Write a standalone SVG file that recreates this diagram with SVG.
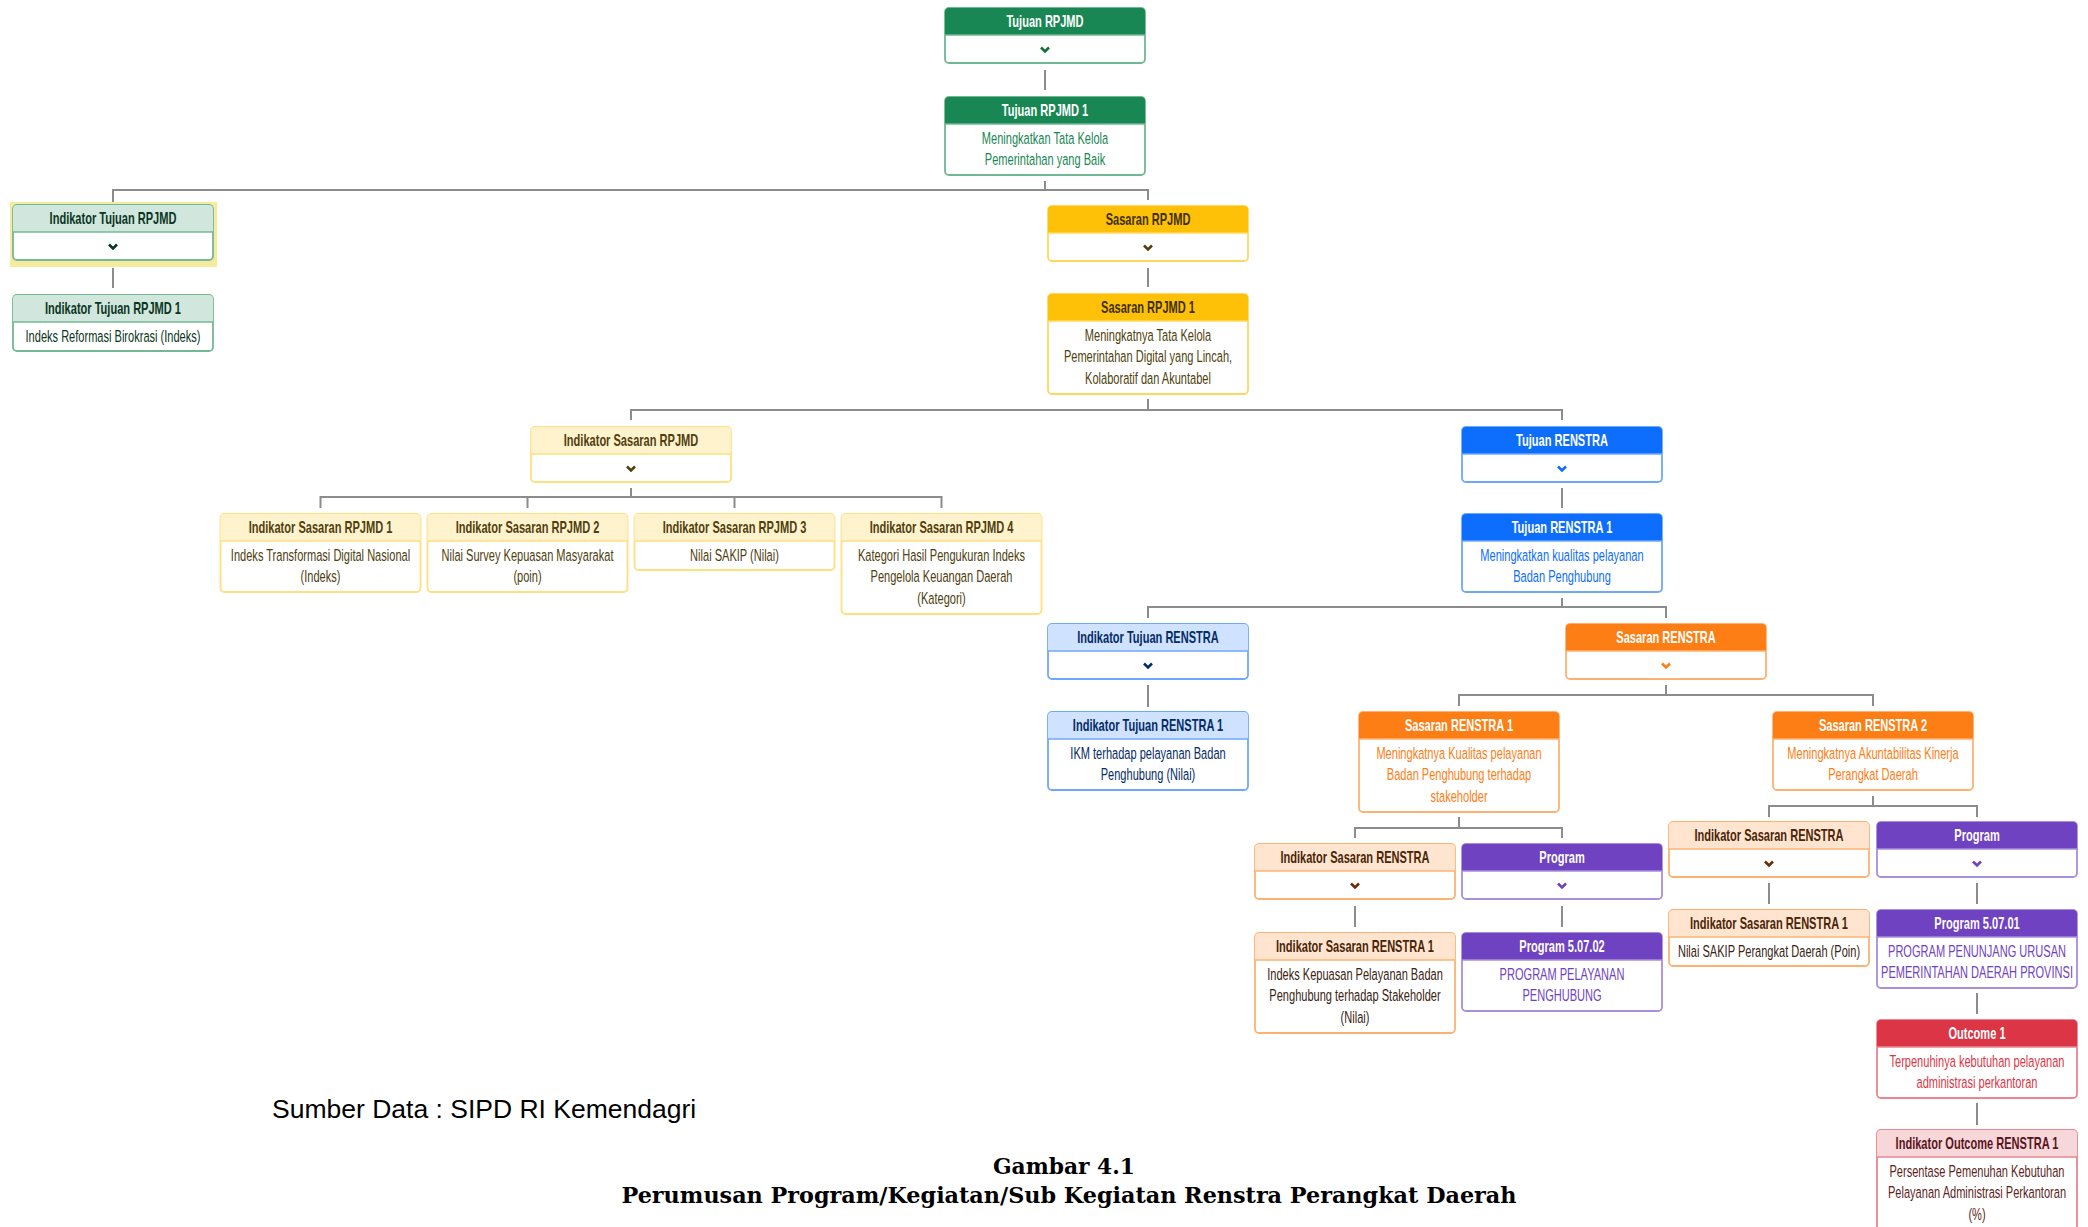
<svg xmlns="http://www.w3.org/2000/svg" width="2088" height="1227" viewBox="0 0 2088 1227">
<style>
.bg{fill:#fff}
.card{fill:#fff;stroke-width:1.8}
.sep{stroke-width:1.5}
.ht{font-family:"Liberation Sans",Arial,sans-serif;font-weight:bold;font-size:16.5px;text-anchor:middle}
.bt{font-family:"Liberation Sans",Arial,sans-serif;font-size:16.5px;text-anchor:middle}
.chev{fill:none;stroke-width:2.6;stroke-linejoin:miter}
.con{fill:none;stroke:#8c8c8c;stroke-width:2}
.g .card,.g .sep{stroke:#6fb893}.g .hd{fill:#198754}.g .ht{fill:#fff}.g .bt{fill:#198754}.g .chev{stroke:#146c43}
.gs .card,.gs .sep{stroke:#74b896}.gs .hd{fill:#d1e7dd}.gs .ht{fill:#0a3622}.gs .bt{fill:#0a3622}.gs .chev{stroke:#0a3622}
.y .card,.y .sep{stroke:#ffd75e}.y .hd{fill:#ffc107}.y .ht{fill:#3d3005}.y .bt{fill:#4f3f0c}.y .chev{stroke:#4f3f0c}
.ys .card,.ys .sep{stroke:#ffdf7e}.ys .hd{fill:#fff3cd}.ys .ht{fill:#4f400e}.ys .bt{fill:#4f400e}.ys .chev{stroke:#4f400e}
.b .card,.b .sep{stroke:#6ea8fe}.b .hd{fill:#0d6efd}.b .ht{fill:#fff}.b .bt{fill:#0d6efd}.b .chev{stroke:#0d6efd}
.bs .card,.bs .sep{stroke:#6ea8fe}.bs .hd{fill:#cfe2ff}.bs .ht{fill:#052c65}.bs .bt{fill:#052c65}.bs .chev{stroke:#052c65}
.o .card,.o .sep{stroke:#feb272}.o .hd{fill:#fd7e14}.o .ht{fill:#fff}.o .bt{fill:#fd7e14}.o .chev{stroke:#fd7e14}
.os .card,.os .sep{stroke:#feb272}.os .hd{fill:#ffe5d0}.os .ht{fill:#4a2508}.os .bt{fill:#3a2412}.os .chev{stroke:#6a2c06}
.p .card,.p .sep{stroke:#a98eda}.p .hd{fill:#6f42c1}.p .ht{fill:#fff}.p .bt{fill:#6f42c1}.p .chev{stroke:#6f42c1}
.r .card,.r .sep{stroke:#ea868f}.r .hd{fill:#dc3545}.r .ht{fill:#fff}.r .bt{fill:#dc3545}.r .chev{stroke:#dc3545}
.rs .card,.rs .sep{stroke:#ea868f}.rs .hd{fill:#f8d7da}.rs .ht{fill:#58151c}.rs .bt{fill:#5e1e22}.rs .chev{stroke:#58151c}
.src{font-family:"Liberation Sans",Arial,sans-serif;font-size:26.5px;fill:#000}
.cap{font-family:"DejaVu Serif","Liberation Serif",serif;font-weight:bold;font-size:23px;fill:#000;text-anchor:middle}
</style>
<rect class="bg" x="0" y="0" width="2088" height="1227"/>

<g id="connectors">
<path class="con" d="M1045 70V90"/>
<path class="con" d="M1045 181V190M113 202V190H1148V200"/>
<path class="con" d="M113 268V288"/>
<path class="con" d="M1148 268V287"/>
<path class="con" d="M1148 399V410M631 420V410H1562V420"/>
<path class="con" d="M631 488V497M320.5 508V497H941.5V508M527.5 497V508M734.5 497V508"/>
<path class="con" d="M1562 488V508"/>
<path class="con" d="M1562 598V607M1148 618V607H1666V618"/>
<path class="con" d="M1148 685V707"/>
<path class="con" d="M1666 685V695M1459 706V695H1873V706"/>
<path class="con" d="M1459 817V828M1355 838V828H1562V838"/>
<path class="con" d="M1355 906V927"/>
<path class="con" d="M1562 906V927"/>
<path class="con" d="M1873 796V806M1769 817V806H1977V817"/>
<path class="con" d="M1769 883V904"/>
<path class="con" d="M1977 883V904"/>
<path class="con" d="M1977 993V1014"/>
<path class="con" d="M1977 1103V1125"/>
</g>

<g id="tujuan-rpjmd" class="g">
<rect class="card" x="945" y="8" width="200" height="55" rx="4"/>
<path class="hd" d="M945 35V12a4 4 0 0 1 4-4h192a4 4 0 0 1 4 4V35Z"/>
<path class="sep" d="M945 35H1145"/>
<text class="ht" transform="translate(1045 27) scale(.67 1)">Tujuan RPJMD</text>
<path class="chev" d="M1041 47.5L1045 51.5L1049 47.5"/>
</g>

<g id="tujuan-rpjmd-1" class="g">
<rect class="card" x="945" y="97" width="200" height="78" rx="4"/>
<path class="hd" d="M945 124V101a4 4 0 0 1 4-4h192a4 4 0 0 1 4 4V124Z"/>
<path class="sep" d="M945 124H1145"/>
<text class="ht" transform="translate(1045 116) scale(.67 1)">Tujuan RPJMD 1</text>
<text class="bt" transform="translate(1045 143.5) scale(.67 1)"><tspan x="0">Meningkatkan Tata Kelola</tspan><tspan x="0" dy="22">Pemerintahan yang Baik</tspan></text>
</g>

<g id="indikator-tujuan-rpjmd" class="gs">
<rect x="10" y="202" width="207" height="65" fill="#f6eb9c"/>
<rect class="card" x="13" y="205" width="200" height="55" rx="4"/>
<path class="hd" d="M13 232V209a4 4 0 0 1 4-4h192a4 4 0 0 1 4 4V232Z"/>
<path class="sep" d="M13 232H213"/>
<text class="ht" transform="translate(113 224) scale(.67 1)">Indikator Tujuan RPJMD</text>
<path class="chev" d="M109 244.5L113 248.5L117 244.5"/>
</g>

<g id="indikator-tujuan-rpjmd-1" class="gs">
<rect class="card" x="13" y="295" width="200" height="56" rx="4"/>
<path class="hd" d="M13 322V299a4 4 0 0 1 4-4h192a4 4 0 0 1 4 4V322Z"/>
<path class="sep" d="M13 322H213"/>
<text class="ht" transform="translate(113 314) scale(.67 1)">Indikator Tujuan RPJMD 1</text>
<text class="bt" transform="translate(113 341.5) scale(.67 1)">Indeks Reformasi Birokrasi (Indeks)</text>
</g>

<g id="sasaran-rpjmd" class="y">
<rect class="card" x="1048" y="206" width="200" height="55" rx="4"/>
<path class="hd" d="M1048 233V210a4 4 0 0 1 4-4h192a4 4 0 0 1 4 4V233Z"/>
<path class="sep" d="M1048 233H1248"/>
<text class="ht" transform="translate(1148 225) scale(.67 1)">Sasaran RPJMD</text>
<path class="chev" d="M1144 245.5L1148 249.5L1152 245.5"/>
</g>

<g id="sasaran-rpjmd-1" class="y">
<rect class="card" x="1048" y="294" width="200" height="100" rx="4"/>
<path class="hd" d="M1048 321V298a4 4 0 0 1 4-4h192a4 4 0 0 1 4 4V321Z"/>
<path class="sep" d="M1048 321H1248"/>
<text class="ht" transform="translate(1148 313) scale(.67 1)">Sasaran RPJMD 1</text>
<text class="bt" transform="translate(1148 340.5) scale(.67 1)"><tspan x="0">Meningkatnya Tata Kelola</tspan><tspan x="0" dy="22">Pemerintahan Digital yang Lincah,</tspan><tspan x="0" dy="22">Kolaboratif dan Akuntabel</tspan></text>
</g>

<g id="indikator-sasaran-rpjmd" class="ys">
<rect class="card" x="531" y="427" width="200" height="55" rx="4"/>
<path class="hd" d="M531 454V431a4 4 0 0 1 4-4h192a4 4 0 0 1 4 4V454Z"/>
<path class="sep" d="M531 454H731"/>
<text class="ht" transform="translate(631 446) scale(.67 1)">Indikator Sasaran RPJMD</text>
<path class="chev" d="M627 466.5L631 470.5L635 466.5"/>
</g>

<g id="indikator-sasaran-rpjmd-1" class="ys">
<rect class="card" x="220.5" y="514" width="200" height="78" rx="4"/>
<path class="hd" d="M220.5 541V518a4 4 0 0 1 4-4h192a4 4 0 0 1 4 4V541Z"/>
<path class="sep" d="M220.5 541H420.5"/>
<text class="ht" transform="translate(320.5 533) scale(.67 1)">Indikator Sasaran RPJMD 1</text>
<text class="bt" transform="translate(320.5 560.5) scale(.67 1)"><tspan x="0">Indeks Transformasi Digital Nasional</tspan><tspan x="0" dy="22">(Indeks)</tspan></text>
</g>

<g id="indikator-sasaran-rpjmd-2" class="ys">
<rect class="card" x="427.5" y="514" width="200" height="78" rx="4"/>
<path class="hd" d="M427.5 541V518a4 4 0 0 1 4-4h192a4 4 0 0 1 4 4V541Z"/>
<path class="sep" d="M427.5 541H627.5"/>
<text class="ht" transform="translate(527.5 533) scale(.67 1)">Indikator Sasaran RPJMD 2</text>
<text class="bt" transform="translate(527.5 560.5) scale(.67 1)"><tspan x="0">Nilai Survey Kepuasan Masyarakat</tspan><tspan x="0" dy="22">(poin)</tspan></text>
</g>

<g id="indikator-sasaran-rpjmd-3" class="ys">
<rect class="card" x="634.5" y="514" width="200" height="56" rx="4"/>
<path class="hd" d="M634.5 541V518a4 4 0 0 1 4-4h192a4 4 0 0 1 4 4V541Z"/>
<path class="sep" d="M634.5 541H834.5"/>
<text class="ht" transform="translate(734.5 533) scale(.67 1)">Indikator Sasaran RPJMD 3</text>
<text class="bt" transform="translate(734.5 560.5) scale(.67 1)">Nilai SAKIP (Nilai)</text>
</g>

<g id="indikator-sasaran-rpjmd-4" class="ys">
<rect class="card" x="841.5" y="514" width="200" height="100" rx="4"/>
<path class="hd" d="M841.5 541V518a4 4 0 0 1 4-4h192a4 4 0 0 1 4 4V541Z"/>
<path class="sep" d="M841.5 541H1041.5"/>
<text class="ht" transform="translate(941.5 533) scale(.67 1)">Indikator Sasaran RPJMD 4</text>
<text class="bt" transform="translate(941.5 560.5) scale(.67 1)"><tspan x="0">Kategori Hasil Pengukuran Indeks</tspan><tspan x="0" dy="22">Pengelola Keuangan Daerah</tspan><tspan x="0" dy="22">(Kategori)</tspan></text>
</g>

<g id="tujuan-renstra" class="b">
<rect class="card" x="1462" y="427" width="200" height="55" rx="4"/>
<path class="hd" d="M1462 454V431a4 4 0 0 1 4-4h192a4 4 0 0 1 4 4V454Z"/>
<path class="sep" d="M1462 454H1662"/>
<text class="ht" transform="translate(1562 446) scale(.67 1)">Tujuan RENSTRA</text>
<path class="chev" d="M1558 466.5L1562 470.5L1566 466.5"/>
</g>

<g id="tujuan-renstra-1" class="b">
<rect class="card" x="1462" y="514" width="200" height="78" rx="4"/>
<path class="hd" d="M1462 541V518a4 4 0 0 1 4-4h192a4 4 0 0 1 4 4V541Z"/>
<path class="sep" d="M1462 541H1662"/>
<text class="ht" transform="translate(1562 533) scale(.67 1)">Tujuan RENSTRA 1</text>
<text class="bt" transform="translate(1562 560.5) scale(.67 1)"><tspan x="0">Meningkatkan kualitas pelayanan</tspan><tspan x="0" dy="22">Badan Penghubung</tspan></text>
</g>

<g id="indikator-tujuan-renstra" class="bs">
<rect class="card" x="1048" y="624" width="200" height="55" rx="4"/>
<path class="hd" d="M1048 651V628a4 4 0 0 1 4-4h192a4 4 0 0 1 4 4V651Z"/>
<path class="sep" d="M1048 651H1248"/>
<text class="ht" transform="translate(1148 643) scale(.67 1)">Indikator Tujuan RENSTRA</text>
<path class="chev" d="M1144 663.5L1148 667.5L1152 663.5"/>
</g>

<g id="indikator-tujuan-renstra-1" class="bs">
<rect class="card" x="1048" y="712" width="200" height="78" rx="4"/>
<path class="hd" d="M1048 739V716a4 4 0 0 1 4-4h192a4 4 0 0 1 4 4V739Z"/>
<path class="sep" d="M1048 739H1248"/>
<text class="ht" transform="translate(1148 731) scale(.67 1)">Indikator Tujuan RENSTRA 1</text>
<text class="bt" transform="translate(1148 758.5) scale(.67 1)"><tspan x="0">IKM terhadap pelayanan Badan</tspan><tspan x="0" dy="22">Penghubung (Nilai)</tspan></text>
</g>

<g id="sasaran-renstra" class="o">
<rect class="card" x="1566" y="624" width="200" height="55" rx="4"/>
<path class="hd" d="M1566 651V628a4 4 0 0 1 4-4h192a4 4 0 0 1 4 4V651Z"/>
<path class="sep" d="M1566 651H1766"/>
<text class="ht" transform="translate(1666 643) scale(.67 1)">Sasaran RENSTRA</text>
<path class="chev" d="M1662 663.5L1666 667.5L1670 663.5"/>
</g>

<g id="sasaran-renstra-1" class="o">
<rect class="card" x="1359" y="712" width="200" height="100" rx="4"/>
<path class="hd" d="M1359 739V716a4 4 0 0 1 4-4h192a4 4 0 0 1 4 4V739Z"/>
<path class="sep" d="M1359 739H1559"/>
<text class="ht" transform="translate(1459 731) scale(.67 1)">Sasaran RENSTRA 1</text>
<text class="bt" transform="translate(1459 758.5) scale(.67 1)"><tspan x="0">Meningkatnya Kualitas pelayanan</tspan><tspan x="0" dy="22">Badan Penghubung terhadap</tspan><tspan x="0" dy="22">stakeholder</tspan></text>
</g>

<g id="sasaran-renstra-2" class="o">
<rect class="card" x="1773" y="712" width="200" height="78" rx="4"/>
<path class="hd" d="M1773 739V716a4 4 0 0 1 4-4h192a4 4 0 0 1 4 4V739Z"/>
<path class="sep" d="M1773 739H1973"/>
<text class="ht" transform="translate(1873 731) scale(.67 1)">Sasaran RENSTRA 2</text>
<text class="bt" transform="translate(1873 758.5) scale(.67 1)"><tspan x="0">Meningkatnya Akuntabilitas Kinerja</tspan><tspan x="0" dy="22">Perangkat Daerah</tspan></text>
</g>

<g id="indikator-sasaran-renstra-a" class="os">
<rect class="card" x="1255" y="844" width="200" height="55" rx="4"/>
<path class="hd" d="M1255 871V848a4 4 0 0 1 4-4h192a4 4 0 0 1 4 4V871Z"/>
<path class="sep" d="M1255 871H1455"/>
<text class="ht" transform="translate(1355 863) scale(.67 1)">Indikator Sasaran RENSTRA</text>
<path class="chev" d="M1351 883.5L1355 887.5L1359 883.5"/>
</g>

<g id="program-a" class="p">
<rect class="card" x="1462" y="844" width="200" height="55" rx="4"/>
<path class="hd" d="M1462 871V848a4 4 0 0 1 4-4h192a4 4 0 0 1 4 4V871Z"/>
<path class="sep" d="M1462 871H1662"/>
<text class="ht" transform="translate(1562 863) scale(.67 1)">Program</text>
<path class="chev" d="M1558 883.5L1562 887.5L1566 883.5"/>
</g>

<g id="indikator-sasaran-renstra-1-a" class="os">
<rect class="card" x="1255" y="933" width="200" height="100" rx="4"/>
<path class="hd" d="M1255 960V937a4 4 0 0 1 4-4h192a4 4 0 0 1 4 4V960Z"/>
<path class="sep" d="M1255 960H1455"/>
<text class="ht" transform="translate(1355 952) scale(.67 1)">Indikator Sasaran RENSTRA 1</text>
<text class="bt" transform="translate(1355 979.5) scale(.67 1)"><tspan x="0">Indeks Kepuasan Pelayanan Badan</tspan><tspan x="0" dy="22">Penghubung terhadap Stakeholder</tspan><tspan x="0" dy="22">(Nilai)</tspan></text>
</g>

<g id="program-5-07-02" class="p">
<rect class="card" x="1462" y="933" width="200" height="78" rx="4"/>
<path class="hd" d="M1462 960V937a4 4 0 0 1 4-4h192a4 4 0 0 1 4 4V960Z"/>
<path class="sep" d="M1462 960H1662"/>
<text class="ht" transform="translate(1562 952) scale(.67 1)">Program 5.07.02</text>
<text class="bt" transform="translate(1562 979.5) scale(.67 1)"><tspan x="0">PROGRAM PELAYANAN</tspan><tspan x="0" dy="22">PENGHUBUNG</tspan></text>
</g>

<g id="indikator-sasaran-renstra-b" class="os">
<rect class="card" x="1669" y="822" width="200" height="55" rx="4"/>
<path class="hd" d="M1669 849V826a4 4 0 0 1 4-4h192a4 4 0 0 1 4 4V849Z"/>
<path class="sep" d="M1669 849H1869"/>
<text class="ht" transform="translate(1769 841) scale(.67 1)">Indikator Sasaran RENSTRA</text>
<path class="chev" d="M1765 861.5L1769 865.5L1773 861.5"/>
</g>

<g id="program-b" class="p">
<rect class="card" x="1877" y="822" width="200" height="55" rx="4"/>
<path class="hd" d="M1877 849V826a4 4 0 0 1 4-4h192a4 4 0 0 1 4 4V849Z"/>
<path class="sep" d="M1877 849H2077"/>
<text class="ht" transform="translate(1977 841) scale(.67 1)">Program</text>
<path class="chev" d="M1973 861.5L1977 865.5L1981 861.5"/>
</g>

<g id="indikator-sasaran-renstra-1-b" class="os">
<rect class="card" x="1669" y="910" width="200" height="56" rx="4"/>
<path class="hd" d="M1669 937V914a4 4 0 0 1 4-4h192a4 4 0 0 1 4 4V937Z"/>
<path class="sep" d="M1669 937H1869"/>
<text class="ht" transform="translate(1769 929) scale(.67 1)">Indikator Sasaran RENSTRA 1</text>
<text class="bt" transform="translate(1769 956.5) scale(.67 1)">Nilai SAKIP Perangkat Daerah (Poin)</text>
</g>

<g id="program-5-07-01" class="p">
<rect class="card" x="1877" y="910" width="200" height="78" rx="4"/>
<path class="hd" d="M1877 937V914a4 4 0 0 1 4-4h192a4 4 0 0 1 4 4V937Z"/>
<path class="sep" d="M1877 937H2077"/>
<text class="ht" transform="translate(1977 929) scale(.67 1)">Program 5.07.01</text>
<text class="bt" transform="translate(1977 956.5) scale(.67 1)"><tspan x="0">PROGRAM PENUNJANG URUSAN</tspan><tspan x="0" dy="22">PEMERINTAHAN DAERAH PROVINSI</tspan></text>
</g>

<g id="outcome-1" class="r">
<rect class="card" x="1877" y="1020" width="200" height="78" rx="4"/>
<path class="hd" d="M1877 1047V1024a4 4 0 0 1 4-4h192a4 4 0 0 1 4 4V1047Z"/>
<path class="sep" d="M1877 1047H2077"/>
<text class="ht" transform="translate(1977 1039) scale(.67 1)">Outcome 1</text>
<text class="bt" transform="translate(1977 1066.5) scale(.67 1)"><tspan x="0">Terpenuhinya kebutuhan pelayanan</tspan><tspan x="0" dy="22">administrasi perkantoran</tspan></text>
</g>

<g id="indikator-outcome-renstra-1" class="rs">
<rect class="card" x="1877" y="1130" width="200" height="100" rx="4"/>
<path class="hd" d="M1877 1157V1134a4 4 0 0 1 4-4h192a4 4 0 0 1 4 4V1157Z"/>
<path class="sep" d="M1877 1157H2077"/>
<text class="ht" transform="translate(1977 1149) scale(.67 1)">Indikator Outcome RENSTRA 1</text>
<text class="bt" transform="translate(1977 1176.5) scale(.67 1)"><tspan x="0">Persentase Pemenuhan Kebutuhan</tspan><tspan x="0" dy="22">Pelayanan Administrasi Perkantoran</tspan><tspan x="0" dy="22">(%)</tspan></text>
</g>

<text class="src" x="272" y="1118">Sumber Data : SIPD RI Kemendagri</text>
<text class="cap" x="1064" y="1174" textLength="142" lengthAdjust="spacingAndGlyphs">Gambar 4.1</text>
<text class="cap" x="1069" y="1203" textLength="895" lengthAdjust="spacingAndGlyphs">Perumusan Program/Kegiatan/Sub Kegiatan Renstra Perangkat Daerah</text>
</svg>
